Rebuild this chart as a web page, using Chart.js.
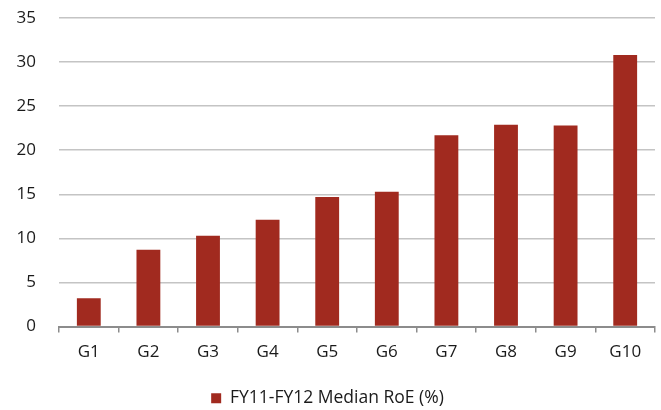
<!DOCTYPE html>
<html>
<head>
<meta charset="utf-8">
<script src="https://cdn.jsdelivr.net/npm/chart.js@4/dist/chart.umd.min.js"></script>
<style>
  html, body { margin: 0; padding: 0; background: #fff; }
  #wrap { width: 661px; height: 410px; position: relative; }
</style>
</head>
<body>
<div id="wrap"><canvas id="roeChart"></canvas></div>
<script>
const groups = ['G1', 'G2', 'G3', 'G4', 'G5', 'G6', 'G7', 'G8', 'G9', 'G10'];
const medianRoe = [3.2, 8.7, 10.3, 12.1, 14.7, 15.3, 21.7, 22.9, 22.8, 30.8];
const yTicks = [0, 5, 10, 15, 20, 25, 30, 35];

const barRed = '#a12a1f';
const fontFamily = '"Open Sans", "DejaVu Sans", sans-serif';

Chart.defaults.font.family = fontFamily;
Chart.defaults.font.size = 17;
Chart.defaults.color = '#1a1a1a';

new Chart(document.getElementById('roeChart').getContext('2d'), {
    type: 'bar',
    data: {
        labels: groups,
        datasets: [{
            label: 'FY11-FY12 Median RoE (%)',
            data: medianRoe,
            backgroundColor: barRed,
            borderWidth: 0,
            barPercentage: 0.4,
            categoryPercentage: 1.0
        }]
    },
    options: {
        responsive: true,
        maintainAspectRatio: false,
        animation: false,
        layout: {
            padding: { top: 18, right: 6, bottom: -7, left: 0 }
        },
        plugins: {
            tooltip: { enabled: false },
            legend: {
                position: 'bottom',
                labels: {
                    boxWidth: 10,
                    boxHeight: 10,
                    padding: 6,
                    font: { size: 17.5 },
                    color: '#1a1a1a'
                }
            }
        },
        scales: {
            x: {
                afterFit: axis => { axis.height = 57; },
                grid: {
                    offset: true,
                    drawOnChartArea: false,
                    drawTicks: true,
                    tickLength: 6,
                    lineWidth: 1.5,
                    color: '#8c8c8c'
                },
                border: { display: true, color: '#8c8c8c', width: 2 },
                ticks: { padding: 9, font: { size: 17 }, color: '#1a1a1a' }
            },
            y: {
                min: 0,
                max: 35,
                afterBuildTicks: axis => {
                    axis.ticks = yTicks.map(v => ({ value: v }));
                },
                afterFit: axis => {
                    // fixed gutter for the value labels, no extra label overhang
                    axis.width = 59;
                    axis.paddingTop = 0;
                    axis.paddingBottom = 0;
                },
                grid: {
                    drawTicks: false,
                    color: '#c4c4c4',
                    lineWidth: 1.5
                },
                border: { display: false },
                ticks: { padding: 23, font: { size: 17 }, color: '#1a1a1a' }
            }
        }
    }
});
</script>
</body>
</html>
